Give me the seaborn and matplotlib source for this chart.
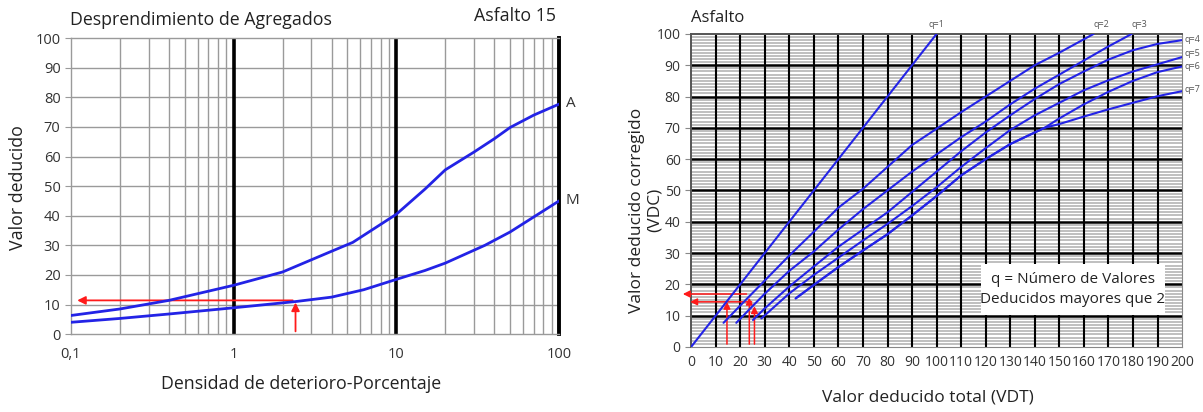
import numpy as np
import pandas as pd
import matplotlib.pyplot as plt
import seaborn as sns

# Datos - grafico izquierdo (Desprendimiento de Agregados)
dens_a = [0.1, 0.2, 0.4, 1, 2, 4, 5.4, 10, 15, 20, 30, 40, 50, 70, 100]
vd_a = [6.3, 8.5, 11.4, 16.5, 21, 28, 31, 40.5, 49, 55.5, 61.5, 66, 69.8, 74, 77.7]
dens_m = [0.1, 0.2, 0.4, 1, 2.4, 4, 6.3, 10, 15, 20, 35, 50, 100]
vd_m = [4, 5.3, 6.8, 8.9, 11, 12.5, 15, 18.5, 21.5, 24, 30, 34.5, 45]

# Datos - grafico derecho (curvas q)
vdt_q1 = [0, 100]
vdc_q1 = [0, 100]
vdt_q2 = [13.2, 20, 30, 40, 50, 60, 70, 80, 90, 100, 110, 120, 130, 140, 150, 164]
vdc_q2 = [7.7, 13.2, 21.2, 29.2, 36.8, 44.5, 50.5, 57.5, 64.5, 69.7, 75, 80, 85, 90, 94, 100]
vdt_q3 = [18.4, 25, 30, 40, 50, 60, 70, 80, 90, 100, 110, 120, 130, 140, 150, 160, 170, 179.5]
vdc_q3 = [7.7, 13, 17, 24.3, 30.5, 37.5, 44, 50, 56, 61.5, 67, 72, 77.5, 82.5, 87, 91.5, 96, 100]
vdt_q4 = [25.2, 30, 40, 50, 60, 70, 80, 90, 100, 110, 120, 130, 140, 150, 160, 170, 180, 190, 200]
vdc_q4 = [8.6, 12.3, 19.3, 25.7, 32, 37.5, 43, 49.5, 56, 62.5, 68.5, 74, 79.2, 84, 88, 91.8, 94.8, 96.8, 98]
vdt_q5 = [28.6, 40, 50, 60, 70, 80, 90, 100, 110, 120, 130, 140, 150, 160, 170, 180, 190, 200]
vdc_q5 = [9.1, 17.1, 23, 28.5, 34, 39.3, 45, 51, 57.5, 63.5, 69.3, 74, 78, 82, 85.2, 88, 90.3, 92.6]
vdt_q6 = [42.6, 50, 60, 70, 80, 90, 100, 110, 120, 130, 144, 150, 160, 170, 180, 190, 200]
vdc_q6 = [15.5, 19.8, 25.5, 30.8, 36, 42, 48.2, 54.8, 60, 64.8, 70, 73, 77.5, 81.5, 85, 87.8, 89.6]
vdt_q7 = [42.6, 50, 60, 70, 80, 90, 100, 110, 120, 130, 144, 150, 160, 170, 180, 190, 200]
vdc_q7 = [15.5, 19.8, 25.5, 30.8, 36, 42, 48.2, 54.8, 60, 64.8, 70, 71.2, 73.6, 75.9, 78, 80.1, 81.7]

curvas_izq = pd.concat([
    pd.DataFrame({'dens': dens_a, 'vd': vd_a, 'curva': 'A'}),
    pd.DataFrame({'dens': dens_m, 'vd': vd_m, 'curva': 'M'}),
])
series_q = [(vdt_q1, vdc_q1), (vdt_q2, vdc_q2), (vdt_q3, vdc_q3), (vdt_q4, vdc_q4),
            (vdt_q5, vdc_q5), (vdt_q6, vdc_q6), (vdt_q7, vdc_q7)]
curvas_der = pd.concat([pd.DataFrame({'vdt': x, 'vdc': y, 'q': f'q={i + 1}'})
                        for i, (x, y) in enumerate(series_q)])

sns.set_style('white')
plt.rcParams['font.family'] = ['Open Sans', 'DejaVu Sans']

azul = '#2323e6'
rojo = '#ff1a1a'
gris_txt = '#333333'

fig = plt.figure(figsize=(12.03, 4.12), dpi=100)
ax1 = fig.add_axes([0.059, 0.189, 0.4057, 0.7185])
ax2 = fig.add_axes([0.5745, 0.158, 0.4081, 0.7597])

# ---------------- grafico izquierdo ----------------
ax1.set_xscale('log')
ax1.set_xlim(0.1, 100)
ax1.set_ylim(0, 100)
minors = [m * d for d in (0.1, 1, 10) for m in range(2, 10)]
for v in minors:
    ax1.axvline(v, color='#9a9a9a', lw=1, zorder=1)
for v in range(10, 100, 10):
    ax1.axhline(v, color='#9a9a9a', lw=1, zorder=1)
for v in (1, 10):
    ax1.axvline(v, color='black', lw=2.6, zorder=2)
for s in ('left', 'top', 'bottom'):
    ax1.spines[s].set_color('#9a9a9a')
    ax1.spines[s].set_linewidth(1)
ax1.spines['right'].set_color('black')
ax1.spines['right'].set_linewidth(2.8)

sns.lineplot(data=curvas_izq, x='dens', y='vd', hue='curva', palette=[azul, azul],
             estimator=None, sort=False, lw=2, legend=False, ax=ax1, zorder=4)

ax1.set_xticks([0.1, 1, 10, 100])
ax1.set_xticklabels(['0,1', '1', '10', '100'])
ax1.set_xticks([], minor=True)
ax1.set_yticks(range(0, 101, 10))
ax1.tick_params(axis='x', length=0, pad=9, labelsize=10.5, labelcolor=gris_txt)
ax1.tick_params(axis='y', length=4, color='#9a9a9a', left=True, labelsize=10.5,
                labelcolor=gris_txt)
ax1.set_xlabel('')
ax1.set_ylabel('')

ax1.text(110, 78, 'A', fontsize=11, color=gris_txt, va='center', ha='left')
ax1.text(110, 45, 'M', fontsize=11, color=gris_txt, va='center', ha='left')

ax1.annotate('', xy=(2.4, 11.6), xytext=(2.4, 0),
             arrowprops=dict(arrowstyle='-|>', color=rojo, lw=1.3, mutation_scale=12))
ax1.annotate('', xy=(0.105, 11.4), xytext=(2.4, 11.4),
             arrowprops=dict(arrowstyle='-|>', color=rojo, lw=1.3, mutation_scale=12))

fig.text(0.058, 0.951, 'Desprendimiento de Agregados', fontsize=12.8, color='#222222',
         va='center', ha='left')
fig.text(0.462, 0.962, 'Asfalto 15', fontsize=12.8, color='#222222', va='center', ha='right')
fig.text(0.015, 0.545, 'Valor deducido', fontsize=12.8, color='#222222', rotation=90,
         va='center', ha='center')
fig.text(0.25, 0.068, 'Densidad de deterioro-Porcentaje', fontsize=12.8, color='#222222',
         va='center', ha='center')

# ---------------- grafico derecho ----------------
ax2.set_xlim(0, 200)
ax2.set_ylim(0, 100)
for v in range(1, 100):
    if v % 10:
        ax2.axhline(v, color='#b4b4b4', lw=1.2, zorder=1)
for v in range(10, 200, 10):
    ax2.axvline(v, color='black', lw=1.5, zorder=2)
for v in range(10, 100, 10):
    ax2.axhline(v, color='black', lw=1.8, zorder=2)
for s in ('left', 'top'):
    ax2.spines[s].set_color('#555555')
    ax2.spines[s].set_linewidth(1.4)
ax2.spines['bottom'].set_color('#888888')
ax2.spines['right'].set_color('#888888')

sns.lineplot(data=curvas_der, x='vdt', y='vdc', hue='q', palette=[azul] * 7,
             estimator=None, sort=False, lw=1.5, legend=False, ax=ax2, zorder=4)

ax2.set_xticks(range(0, 201, 10))
ax2.set_yticks(range(0, 101, 10))
ax2.tick_params(axis='x', length=0, pad=6, labelsize=10, labelcolor=gris_txt)
ax2.tick_params(axis='y', length=4, color='#888888', left=True, labelsize=10,
                labelcolor=gris_txt)
ax2.set_xlabel('')
ax2.set_ylabel('')

etiquetas_q = [('q=1', 100, 101.5, 'center', 'bottom'), ('q=2', 167, 101.5, 'center', 'bottom'),
               ('q=3', 182.5, 101.5, 'center', 'bottom'), ('q=4', 201, 98.3, 'left', 'center'),
               ('q=5', 201, 93.8, 'left', 'center'), ('q=6', 201, 89.6, 'left', 'center'),
               ('q=7', 201, 82.3, 'left', 'center')]
for txt, x, y, ha, va in etiquetas_q:
    ax2.text(x, y, txt, fontsize=6.5, color='#555555', ha=ha, va=va, clip_on=False)

ax2.add_patch(plt.Rectangle((118, 10.2), 75, 16.2, facecolor='white', edgecolor='none',
                            zorder=3))
ax2.text(155.5, 18.3, 'q = Número de Valores\nDeducidos mayores que 2', fontsize=11,
         color='#222222', ha='center', va='center', linespacing=1.5, zorder=5)

flecha = dict(arrowstyle='-|>', color=rojo, lw=1.1, mutation_scale=10)
for x, y in [(14.6, 15.3), (23.7, 16.6), (25.8, 13.9)]:
    ax2.annotate('', xy=(x, y), xytext=(x, 0), arrowprops=flecha, annotation_clip=False)
ax2.annotate('', xy=(-4.5, 16.9), xytext=(23.7, 16.9), arrowprops=flecha, annotation_clip=False)
ax2.annotate('', xy=(-1.5, 14.4), xytext=(25.8, 14.4), arrowprops=flecha, annotation_clip=False)

fig.text(0.5745, 0.956, 'Asfalto', fontsize=12, color='#222222', va='center', ha='left')
fig.text(0.537, 0.49, 'Valor deducido corregido\n(VDC)', fontsize=12.5, color='#222222',
         rotation=90, va='center', ha='center', linespacing=1.1)
fig.text(0.771, 0.034, 'Valor deducido total (VDT)', fontsize=12.5, color='#222222',
         va='center', ha='center')

fig.savefig('out.png', dpi=100, facecolor='white')
